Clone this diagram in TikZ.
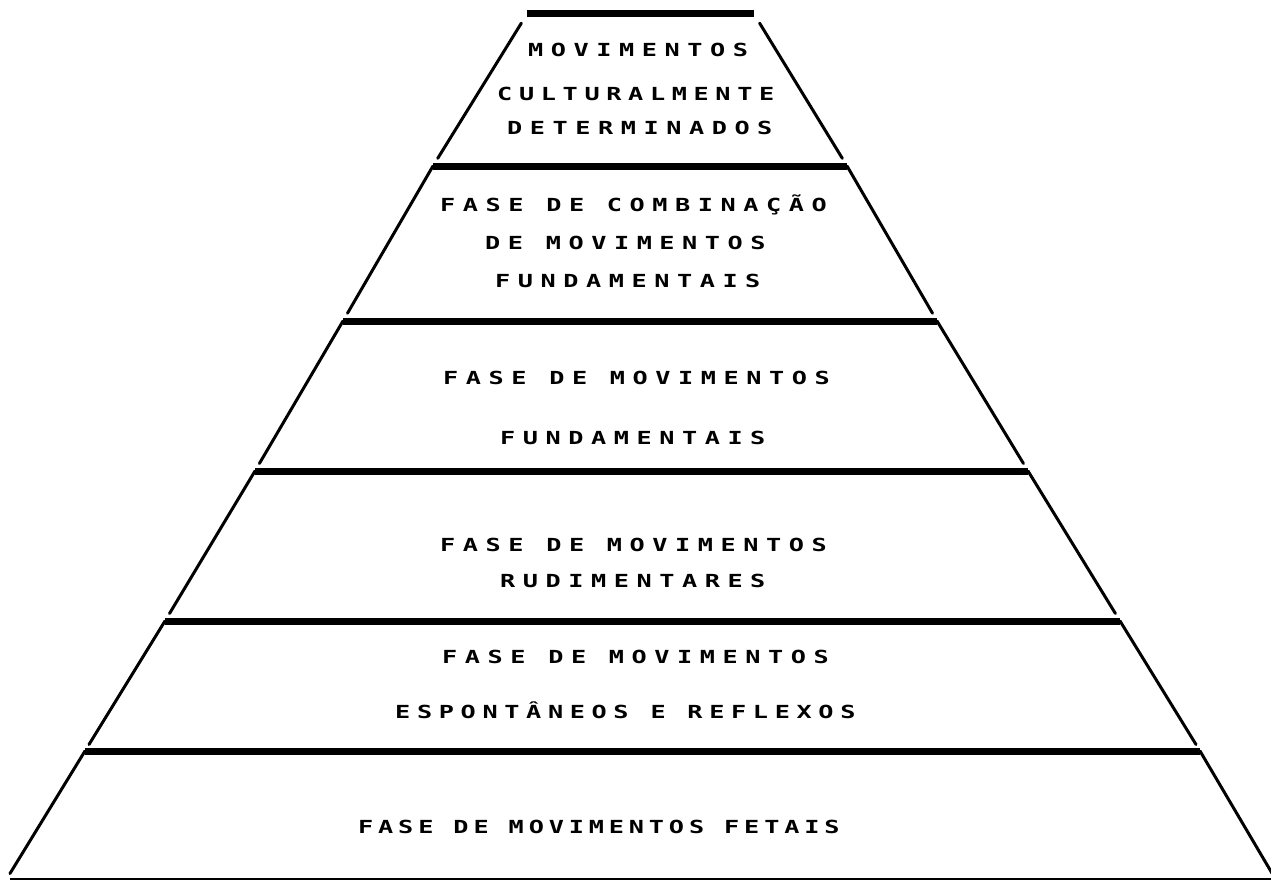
\documentclass[tikz,border=0pt]{standalone}
\usepackage{fontspec}
\usetikzlibrary{calc}
\newfontfamily\pfont[FakeStretch=1.4,LetterSpace=42]{DejaVu Sans Mono Bold}
\newfontfamily\pfontc[FakeStretch=1.4,LetterSpace=37]{DejaVu Sans Mono Bold}
\newfontfamily\pfontb[FakeStretch=1.4,LetterSpace=27]{DejaVu Sans Mono Bold}
\begin{document}
\begin{tikzpicture}[x=1pt,y=-1pt,
  bar/.style={line width=7pt,line cap=butt},
  side/.style={line width=3pt,line cap=round},
  lbl/.style={anchor=base west,inner sep=0pt,font=\pfont\fontsize{18}{20}\selectfont},
  lblc/.style={anchor=base west,inner sep=0pt,font=\pfontc\fontsize{18}{20}\selectfont},
  lblb/.style={anchor=base west,inner sep=0pt,font=\pfontb\fontsize{18}{20}\selectfont}]
\useasboundingbox (0,0) rectangle (1271,880);
% bar ends
\coordinate (L1) at (527,14);  \coordinate (R1) at (754,14);
\coordinate (L2) at (433,166); \coordinate (R2) at (847,166);
\coordinate (L3) at (343,321); \coordinate (R3) at (937,321);
\coordinate (L4) at (255,471); \coordinate (R4) at (1028,471);
\coordinate (L5) at (165,621); \coordinate (R5) at (1120,621);
\coordinate (L6) at (85,751);  \coordinate (R6) at (1200,751);
\coordinate (L7) at (6,880);   \coordinate (R7) at (1276,880);
% bars
\foreach \i in {1,...,6} \draw[bar] (L\i) -- (R\i);
\draw[line width=2pt] (10,879) -- (1271,879);
% sides
\draw[side] ($(L1)!0.06!(L2)$) -- ($(L1)!0.95!(L2)$);
\draw[side] ($(R1)!0.06!(R2)$) -- ($(R1)!0.95!(R2)$);
\foreach \i/\j in {2/3,3/4,4/5,5/6,6/7}{
  \draw[side] (L\i) -- ($(L\i)!0.95!(L\j)$);
  \draw[side] (R\i) -- ($(R\i)!0.95!(R\j)$);
}
% labels
\node[lbl] (t1a) at (528,57) {MOVIMENTOS};
\node[lblc] (t1b) at (497,101) {CULTURALMENTE};
\node[lbl] (t1c) at (507,135) {DETERMINADOS};
\node[lbl] (t2a) at (440,211) {FASE DE COMBINAÇÃO};
\node[lbl] (t2b) at (485,249) {DE MOVIMENTOS};
\node[lbl] (t2c) at (495,287) {FUNDAMENTAIS};
\node[lbl] (t3a) at (443,384) {FASE DE MOVIMENTOS};
\node[lbl] (t3b) at (500,444) {FUNDAMENTAIS};
\node[lbl] (t4a) at (440,551) {FASE DE MOVIMENTOS};
\node[lbl] (t4b) at (500,587) {RUDIMENTARES};
\node[lbl] (t5a) at (442,663) {FASE DE MOVIMENTOS};
\node[lblc] (t5b) at (395,718) {ESPONTÂNEOS E REFLEXOS};
\node[lblb] (t6) at (358,833) {FASE DE MOVIMENTOS FETAIS};
\end{tikzpicture}
\end{document}
